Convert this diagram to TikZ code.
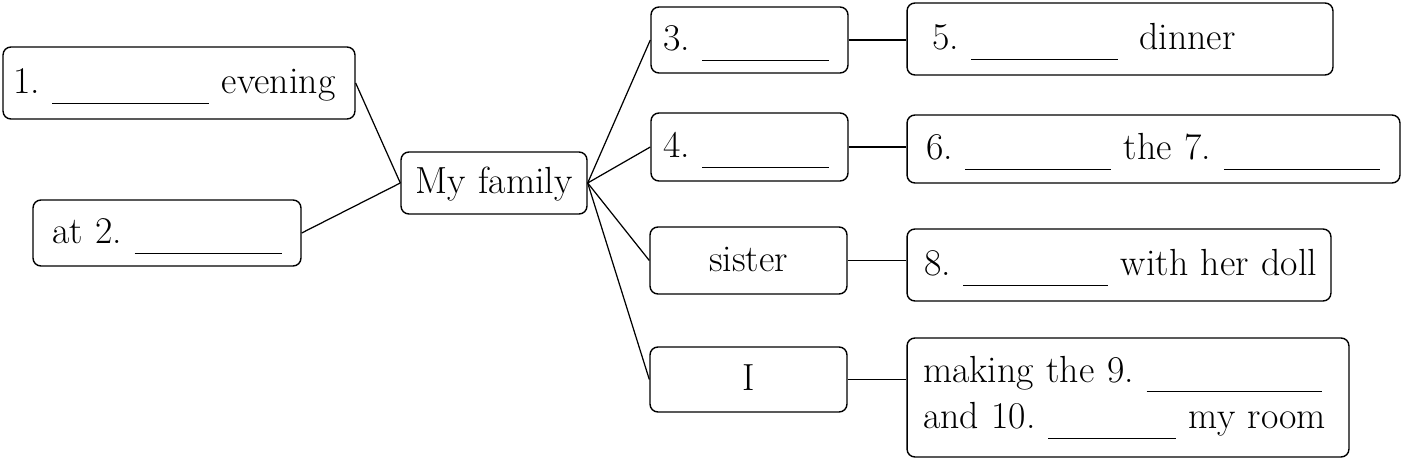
\documentclass[tikz,border=0pt]{standalone}
\usepackage{tikz}
\usetikzlibrary{positioning}

% blank to fill in
\newcommand{\fillin}[1]{\rule[-0.2cm]{#1}{0.8pt}}

\begin{document}
\begin{tikzpicture}[x=0.02cm, y=-0.02cm,
    cell/.style={draw, line width=0.8pt, rounded corners=4.5pt, align=left,
        font=\fontsize{21.5}{26.6}\selectfont\frenchspacing, inner ysep=0pt},
    oneline/.style={cell, text height=0.5cm, text depth=0.06cm},
    link/.style={line width=0.7pt}]
    \useasboundingbox (0,0) rectangle (1401,459);

    % centre
    \node[oneline, align=center, text width=3.4cm, inner xsep=0.16cm, minimum height=1.24cm] (fam) at (494,183) {My family};

    % left side
    \node[oneline, text width=6.64cm, inner xsep=0.2cm, minimum height=1.44cm] (n1) at (179,83) {\mbox{1. \fillin{3.14cm} evening}};
    \node[oneline, text width=4.6cm, inner xsep=0.38cm, minimum height=1.32cm] (n2) at (167,233) {\mbox{at 2. \fillin{2.94cm}}};

    % who
    \node[oneline, text width=3.46cm, inner xsep=0.24cm, minimum height=1.32cm] (n3) at (749.5,40) {\mbox{3. \fillin{2.54cm}}};
    \node[oneline, text width=3.46cm, inner xsep=0.24cm, minimum height=1.36cm] (n4) at (749.5,147) {\mbox{4. \fillin{2.54cm}}};
    \node[oneline, align=center, text width=3.46cm, inner xsep=0.24cm, minimum height=1.34cm] (sis) at (748.5,260.5) {sister};
    \node[oneline, align=center, text width=3.46cm, inner xsep=0.24cm, minimum height=1.3cm] (me) at (748.5,379.5) {I};

    % what they do
    \node[oneline, text width=7.52cm, inner xsep=0.5cm, minimum height=1.44cm] (n5) at (1120,39) {\mbox{5. \fillin{2.94cm}\hspace{0.42cm}dinner}};
    \node[oneline, text width=9.1cm, inner xsep=0.38cm, minimum height=1.36cm] (n6) at (1153.5,149) {\mbox{6. \fillin{2.92cm} the 7. \fillin{3.12cm}}};
    \node[oneline, text width=7.8cm, inner xsep=0.34cm, minimum height=1.44cm] (n8) at (1119,265) {\mbox{8. \fillin{2.9cm} with her doll}};
    \node[cell, text width=8.2cm, inner xsep=0.32cm, minimum height=2.38cm] (n9) at (1128,397.5) {\mbox{making the 9. \fillin{3.52cm}}\\\mbox{and 10. \fillin{2.56cm} my room}};

    % connectors
    \draw[link] (n1.east) -- (fam.west);
    \draw[link] (n2.east) -- (fam.west);
    \foreach \b in {n3,n4,sis,me}
        \draw[link] (fam.east) -- (\b.west);
    \draw[link] (n3.east) -- (n3.east -| n5.west);
    \draw[link] (n4.east) -- (n4.east -| n6.west);
    \draw[link] (sis.east) -- (sis.east -| n8.west);
    \draw[link] (me.east) -- (me.east -| n9.west);
\end{tikzpicture}
\end{document}
